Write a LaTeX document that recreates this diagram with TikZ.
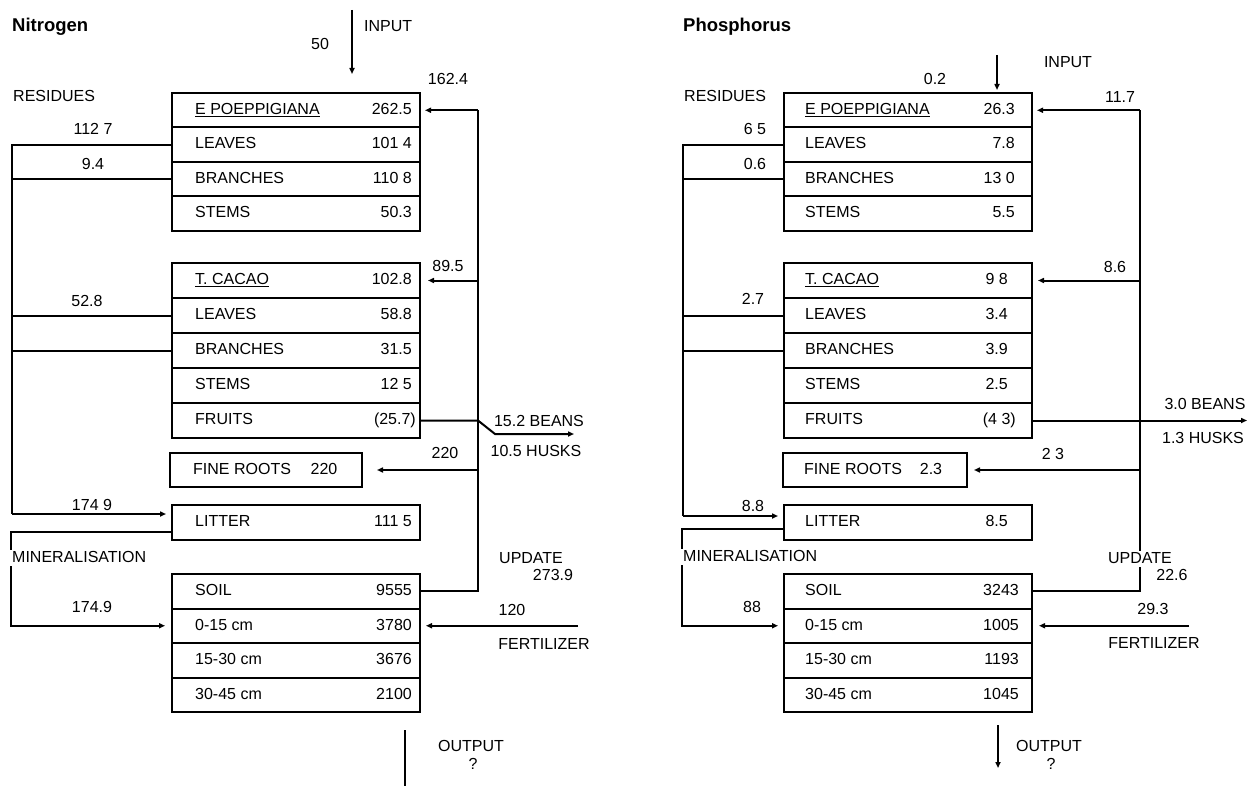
\documentclass[tikz,border=0pt]{standalone}
\usepackage{fontspec}
\setmainfont{Liberation Sans}
\usetikzlibrary{arrows.meta}
\tikzset{
  ln/.style={line width=2pt},
  arr/.style={ln,-{Triangle[length=6pt,width=5pt]}},
  rowbox/.style={draw,line width=2pt,minimum width=248pt,minimum height=34.5pt,inner sep=0pt},
  txt/.style={inner sep=1pt,text height=11.5pt,text depth=3pt,font=\fontsize{16}{18}\selectfont},
  ttl/.style={inner sep=0pt,font=\bfseries\fontsize{18.5}{20}\selectfont},
}
\newcommand\crow[8]{%
  \node[rowbox,minimum height=#4pt] (#1) at (#2,#3) {};
  \node[txt,anchor=west] (#1-l) at (#5,#3) {#6};
  \node[txt,anchor=east] (#1-v) at (#7,#3) {#8};}
\begin{document}
\begin{tikzpicture}[x=1pt,y=-1pt]
\useasboundingbox[fill=white] (0,0) rectangle (1249,786);
% ================= NITROGEN =================
\node[ttl,anchor=west] (nTitle) at (12,27) {Nitrogen};
\node[txt] (nIn50) at (320,45) {50};
\node[txt,anchor=west] (nInput) at (363,27) {INPUT};
\node[txt,anchor=west] (nRes) at (12,97) {RESIDUES};
% E. poeppigiana
\crow{nE1}{296}{110.25}{34.5}{194}{\underline{E POEPPIGIANA}}{413}{262.5}
\crow{nE2}{296}{144.75}{34.5}{194}{LEAVES}{413}{101 4}
\crow{nE3}{296}{179.25}{34.5}{194}{BRANCHES}{413}{110 8}
\crow{nE4}{296}{213.75}{34.5}{194}{STEMS}{413}{50.3}
% T. cacao
\crow{nT1}{296}{280.5}{35}{194}{\underline{T. CACAO}}{413}{102.8}
\crow{nT2}{296}{315.5}{35}{194}{LEAVES}{413}{58.8}
\crow{nT3}{296}{350.5}{35}{194}{BRANCHES}{413}{31.5}
\crow{nT4}{296}{385.5}{35}{194}{STEMS}{413}{12 5}
\crow{nT5}{296}{420.5}{35}{194}{FRUITS}{417}{(25.7)}
% fine roots
\node[rowbox,minimum width=192pt,minimum height=34pt] (nFR) at (266,470) {};
\node[txt,anchor=west] (nFR-l) at (192,470) {FINE ROOTS};
\node[txt] (nFR-v) at (324,470) {220};
% litter
\crow{nL}{296}{522}{35}{194}{LITTER}{413}{111 5}
% soil
\crow{nS1}{296}{591.25}{34.5}{194}{SOIL}{413}{9555}
\crow{nS2}{296}{625.75}{34.5}{194}{0-15 cm}{413}{3780}
\crow{nS3}{296}{660.25}{34.5}{194}{15-30 cm}{413}{3676}
\crow{nS4}{296}{694.75}{34.5}{194}{30-45 cm}{413}{2100}
% labels
\node[txt] (n1624) at (448,80) {162.4};
\node[txt] (n1127) at (93,130) {112 7};
\node[txt] (n94) at (93,165) {9.4};
\node[txt] (n528) at (87,302) {52.8};
\node[txt] (n895) at (448,267) {89.5};
\node[txt] (nBeans) at (539,422) {15.2 BEANS};
\node[txt] (nHusks) at (536,452) {10.5 HUSKS};
\node[txt] (n220) at (445,454) {220};
\node[txt] (n1749a) at (92,506) {174 9};
\node[txt,anchor=west] (nMin) at (11,558) {MINERALISATION};
\node[txt] (n1749b) at (92,608) {174.9};
\node[txt,anchor=west] (nUpd) at (498,559) {UPDATE};
\node[txt] (n2739) at (553,576) {273.9};
\node[txt] (n120) at (512,611) {120};
\node[txt] (nFert) at (544,645) {FERTILIZER};
\node[txt] (nOut) at (471,747) {OUTPUT};
\node[txt] (nQ) at (473,765) {?};
% connectors
\coordinate (nInTop) at (352,10); \coordinate (nInEnd) at (352,74);
\draw[arr] (nInTop) -- (nInEnd);
\coordinate (nVt) at (478,110.25); \coordinate (nVb) at (478,591.25);
\draw[ln] (nS1.east) -- (nVb) -- (nVt);
\draw[arr,shorten >=4pt] (nVt) -- (nE1.east);
\coordinate (nVc) at (478,280.5);
\draw[arr,shorten >=7pt] (nVc) -- (nT1.east);
\coordinate (nVf) at (478,420.5); \coordinate (nFk) at (495,434); \coordinate (nFo) at (574,434);
\draw[arr] (nT5.east) -- (nVf) -- (nFk) -- (nFo);
\coordinate (nVr) at (478,470);
\draw[arr,shorten >=14pt] (nVr) -- (nFR.east);
\coordinate (nR1) at (12,144.75); \coordinate (nR2) at (12,179.25);
\coordinate (nR3) at (12,315.5); \coordinate (nR4) at (12,350.5); \coordinate (nR5) at (12,514);
\draw[ln] (nE2.west) -- (nR1) -- (nR5);
\draw[ln] (nE3.west) -- (nR2);
\draw[ln] (nT2.west) -- (nR3);
\draw[ln] (nT3.west) -- (nR4);
\draw[arr,shorten >=5pt] (nR5) -- ([yshift=8pt]nL.west);
\coordinate (nM1) at (11,532); \coordinate (nM2) at (11,625.75);
\draw[ln] ([yshift=-10pt]nL.west) -- (nM1) -- (nMin.north west);
\draw[arr,shorten >=6pt] (nMin.south west) -- (nM2) -- (nS2.west);
\coordinate (nFz) at (578,625.75);
\draw[arr,shorten >=5pt] (nFz) -- (nS2.east);
\coordinate (nO1) at (405,730); \coordinate (nO2) at (405,786);
\draw[line width=2.5pt] (nO1) -- (nO2);
% ================= PHOSPHORUS =================
\node[ttl,anchor=west] (pTitle) at (683,27) {Phosphorus};
\node[txt] (pInput) at (1068,63) {INPUT};
\node[txt] (p02) at (935,80) {0.2};
\node[txt,anchor=west] (pRes) at (683,97) {RESIDUES};
\crow{pE1}{908}{110.25}{34.5}{804}{\underline{E POEPPIGIANA}}{1016}{26.3}
\crow{pE2}{908}{144.75}{34.5}{804}{LEAVES}{1016}{7.8}
\crow{pE3}{908}{179.25}{34.5}{804}{BRANCHES}{1016}{13 0}
\crow{pE4}{908}{213.75}{34.5}{804}{STEMS}{1016}{5.5}
\crow{pT1}{908}{280.5}{35}{804}{\underline{T. CACAO}}{1009}{9 8}
\crow{pT2}{908}{315.5}{35}{804}{LEAVES}{1009}{3.4}
\crow{pT3}{908}{350.5}{35}{804}{BRANCHES}{1009}{3.9}
\crow{pT4}{908}{385.5}{35}{804}{STEMS}{1009}{2.5}
\crow{pT5}{908}{420.5}{35}{804}{FRUITS}{1017}{(4 3)}
\node[rowbox,minimum width=184pt,minimum height=34pt] (pFR) at (875,470) {};
\node[txt,anchor=west] (pFR-l) at (803,470) {FINE ROOTS};
\node[txt] (pFR-v) at (931,470) {2.3};
\crow{pL}{908}{522}{35}{804}{LITTER}{1009}{8.5}
\crow{pS1}{908}{591.25}{34.5}{804}{SOIL}{1020}{3243}
\crow{pS2}{908}{625.75}{34.5}{804}{0-15 cm}{1020}{1005}
\crow{pS3}{908}{660.25}{34.5}{804}{15-30 cm}{1020}{1193}
\crow{pS4}{908}{694.75}{34.5}{804}{30-45 cm}{1020}{1045}
\node[txt] (p117) at (1120,98) {11.7};
\node[txt] (p65) at (755,130) {6 5};
\node[txt] (p06) at (755,165) {0.6};
\node[txt] (p27) at (753,300) {2.7};
\node[txt] (p86) at (1115,268) {8.6};
\node[txt] (pBeans) at (1205,405) {3.0 BEANS};
\node[txt] (pHusks) at (1203,439) {1.3 HUSKS};
\node[txt] (p23) at (1053,455) {2 3};
\node[txt] (p88a) at (753,507) {8.8};
\node[txt,anchor=west] (pMin) at (682,557) {MINERALISATION};
\node[txt] (p88b) at (752,608) {88};
\node[txt] (pUpd) at (1140,559) {UPDATE};
\node[txt] (p226) at (1172,576) {22.6};
\node[txt] (p293) at (1153,610) {29.3};
\node[txt] (pFert) at (1154,644) {FERTILIZER};
\node[txt] (pOut) at (1049,747) {OUTPUT};
\node[txt] (pQ) at (1051,765) {?};
% connectors
\coordinate (pIn1) at (997,55); \coordinate (pIn2) at (997,90);
\draw[arr] (pIn1) -- (pIn2);
\coordinate (pVt) at (1140,110.25); \coordinate (pVb) at (1140,591.25);
\draw[ln] (pS1.east) -- (pVb) -- (pUpd.south);
\draw[ln] (pUpd.north) -- (pVt);
\draw[arr,shorten >=4pt] (pVt) -- (pE1.east);
\coordinate (pVc) at (1140,280.5);
\draw[arr,shorten >=5pt] (pVc) -- (pT1.east);
\coordinate (pFo) at (1247,420.5);
\draw[arr] (pT5.east) -- (pFo);
\coordinate (pVr) at (1140,470);
\draw[arr,shorten >=6pt] (pVr) -- (pFR.east);
\coordinate (pR1) at (683,144.75); \coordinate (pR2) at (683,179.25);
\coordinate (pR3) at (683,315.5); \coordinate (pR4) at (683,350.5); \coordinate (pR5) at (683,516);
\draw[ln] (pE2.west) -- (pR1) -- (pR5);
\draw[ln] (pE3.west) -- (pR2);
\draw[ln] (pT2.west) -- (pR3);
\draw[ln] (pT3.west) -- (pR4);
\draw[arr,shorten >=5pt] (pR5) -- ([yshift=6pt]pL.west);
\coordinate (pM1) at (682,529); \coordinate (pM2) at (682,625.75);
\draw[ln] ([yshift=-7pt]pL.west) -- (pM1) -- (pMin.north west);
\draw[arr,shorten >=5pt] (pMin.south west) -- (pM2) -- (pS2.west);
\coordinate (pFz) at (1189,625.75);
\draw[arr,shorten >=6pt] (pFz) -- (pS2.east);
\coordinate (pO1) at (998,725); \coordinate (pO2) at (998,768);
\draw[arr] (pO1) -- (pO2);
\end{tikzpicture}
\end{document}
